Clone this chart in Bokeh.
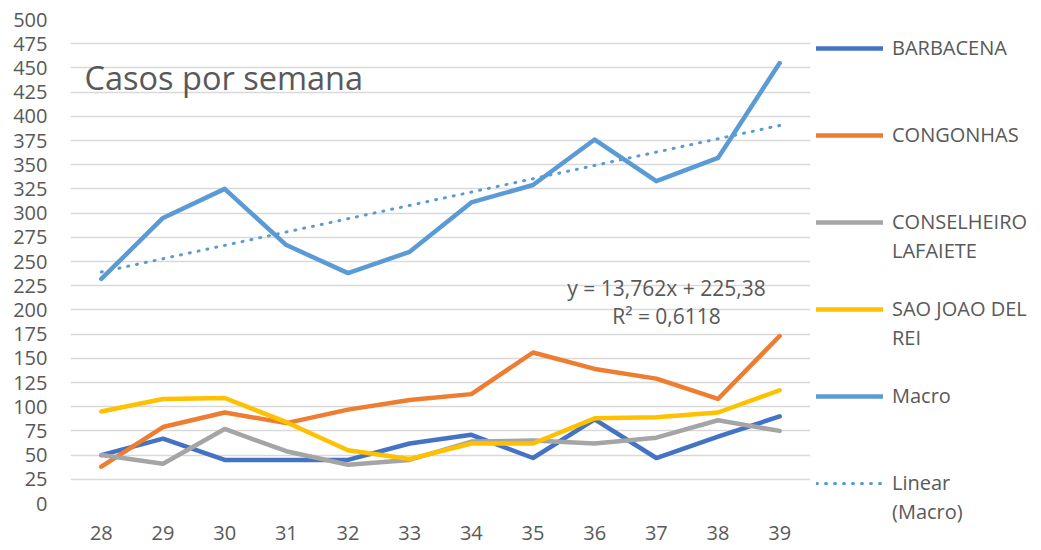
import numpy as np
from bokeh.plotting import figure
from bokeh.models import Legend, LegendItem, Label, FixedTicker, Range1d
from bokeh.embed import file_html
from bokeh.resources import INLINE

weeks = [28, 29, 30, 31, 32, 33, 34, 35, 36, 37, 38, 39]
barbacena = [50, 67, 45, 45, 45, 62, 71, 47, 87, 47, 69, 90]
congonhas = [38, 79, 94, 83, 97, 107, 113, 156, 139, 129, 108, 173]
conselheiro = [50, 41, 77, 54, 40, 45, 64, 65, 62, 68, 86, 75]
sao_joao = [95, 108, 109, 84, 55, 46, 62, 62, 88, 89, 94, 117]
macro = [232, 295, 325, 267, 238, 260, 311, 329, 376, 333, 357, 455]
y_ticks = list(range(0, 501, 25))
title_text = "Casos  por semana"
eq_text = "y = 13,762x + 225,38"
r2_text = "R² = 0,6118"

FONT = "Open Sans"
TXT = "#595959"

# linear trend on Macro (x = 1..12, as Excel does)
idx = np.arange(1, len(weeks) + 1)
slope, intercept = np.polyfit(idx, macro, 1)
trend = list(slope * idx + intercept)

p = figure(frame_width=740, frame_height=484, output_backend="svg", toolbar_location=None,
           x_range=Range1d(27.5, 39.5), y_range=Range1d(0, 500),
           min_border_left=70, min_border_right=0, min_border_top=19, min_border_bottom=47)
p.outline_line_color = None
p.background_fill_color = "white"
p.border_fill_color = "white"

p.xgrid.grid_line_color = None
p.ygrid.grid_line_color = "#D9D9D9"
p.ygrid.grid_line_width = 1.5

for ax in (p.xaxis, p.yaxis):
    ax.axis_line_color = None
    ax.major_tick_line_color = None
    ax.minor_tick_line_color = None
    ax.major_tick_out = 0
    ax.major_tick_in = 0
    ax.minor_tick_out = 0
    ax.major_label_text_font = FONT
    ax.major_label_text_font_size = "20px"
    ax.major_label_text_color = TXT
p.xaxis.ticker = FixedTicker(ticks=weeks)
p.yaxis.ticker = FixedTicker(ticks=y_ticks)
p.yaxis.major_label_standoff = 23
p.xaxis.major_label_standoff = 22

W = 4.5
r_b = p.line(weeks, barbacena, line_color="#4472C4", line_width=W, line_join="round", line_cap="round")
r_c = p.line(weeks, congonhas, line_color="#ED7D31", line_width=W, line_join="round", line_cap="round")
r_g = p.line(weeks, conselheiro, line_color="#A5A5A5", line_width=W, line_join="round", line_cap="round")
r_y = p.line(weeks, sao_joao, line_color="#FFC000", line_width=W, line_join="round", line_cap="round")
r_m = p.line(weeks, macro, line_color="#5B9BD5", line_width=W, line_join="round", line_cap="round")
r_t = p.line(weeks, trend, line_color="#5B9BD5", line_width=3, line_dash="1 8", line_cap="round")
# invisible renderer for wrapped second lines and blank spacer rows of the legend
r_none = p.line([], [], line_alpha=0)

# (label lines, renderer, blank rows after the entry)
entries = [
    (["BARBACENA"], r_b, 2),
    (["CONGONHAS"], r_c, 2),
    (["CONSELHEIRO", "LAFAIETE"], r_g, 1),
    (["SAO JOAO DEL", "REI"], r_y, 1),
    (["Macro"], r_m, 2),
    (["Linear", "(Macro)"], r_t, 0),
]
items = []
for lines, rend, gap in entries:
    items.append(LegendItem(label=lines[0], renderers=[rend]))
    for extra in lines[1:]:
        items.append(LegendItem(label=extra, renderers=[r_none]))
    for _ in range(gap):
        items.append(LegendItem(label=" ", renderers=[r_none]))

lg = Legend(items=items, location=(6, -23))
lg.border_line_color = None
lg.background_fill_alpha = 0
lg.padding = 0
lg.margin = 0
lg.spacing = 0
lg.glyph_width = 67
lg.glyph_height = 20
lg.label_height = 29
lg.label_standoff = 9
lg.label_text_font = FONT
lg.label_text_font_size = "20px"
lg.label_text_color = TXT
lg.label_text_baseline = "middle"
p.add_layout(lg, "right")

p.add_layout(Label(x=14, y=426, x_units="screen", y_units="screen", text=title_text,
                   text_font=FONT, text_font_size="32.5px", text_color=TXT,
                   text_baseline="alphabetic"))
p.add_layout(Label(x=596, y=216, x_units="screen", y_units="screen", text=eq_text,
                   text_font=FONT, text_font_size="21px", text_color=TXT, text_align="center",
                   text_baseline="alphabetic"))
p.add_layout(Label(x=596, y=188, x_units="screen", y_units="screen", text=r2_text,
                   text_font=FONT, text_font_size="21px", text_color=TXT, text_align="center",
                   text_baseline="alphabetic"))

open("out.html", "w").write(file_html(p, INLINE))
